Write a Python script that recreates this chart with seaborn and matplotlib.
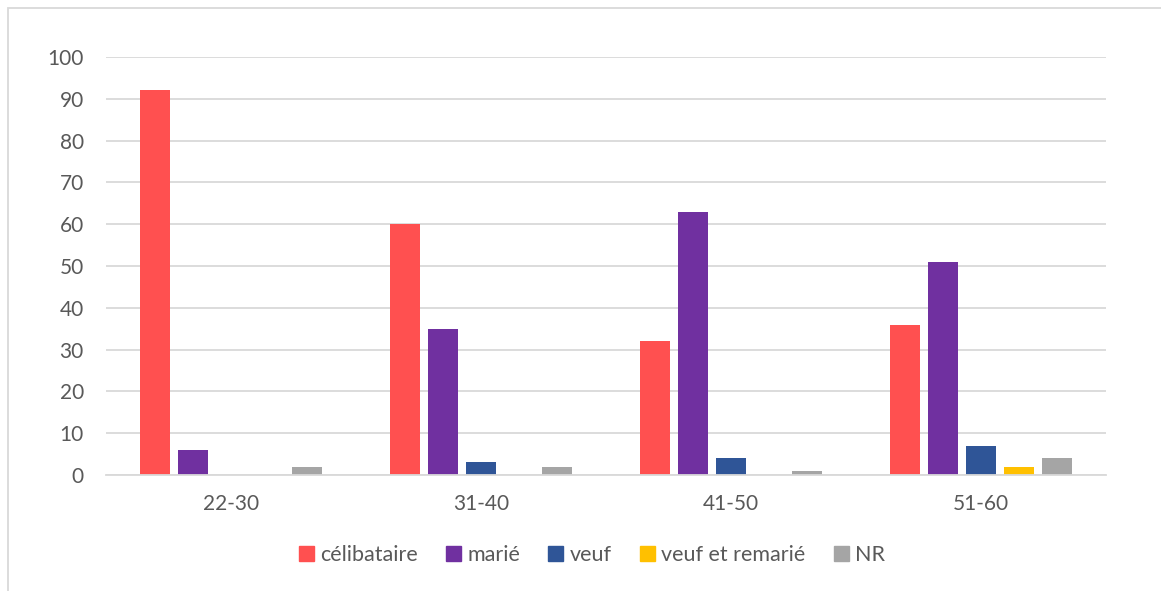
import pandas as pd
import matplotlib.pyplot as plt
import matplotlib.patches as mpatches
import seaborn as sns

age_groups = ["22-30", "31-40", "41-50", "51-60"]
statuses = ["célibataire", "marié", "veuf", "veuf et remarié", "NR"]
celibataire = [92, 60, 32, 36]
marie = [6, 35, 63, 51]
veuf = [0, 3, 4, 7]
veuf_remarie = [0, 0, 0, 2]
nr = [2, 2, 1, 4]
colors = ["#FF5050", "#7030A0", "#2F5597", "#FFC000", "#A5A5A5"]

series = [celibataire, marie, veuf, veuf_remarie, nr]
rows = []
for status, vals in zip(statuses, series):
    for grp, v in zip(age_groups, vals):
        rows.append({"age": grp, "statut": status, "n": v})
df = pd.DataFrame(rows)

sns.set_theme(style="white")
plt.rcParams["font.family"] = ["Lato", "DejaVu Sans"]

fig = plt.figure(figsize=(11.61, 5.91), dpi=100)
ax = fig.add_axes([106 / 1161, 1 - 475 / 591, 1000 / 1161, (475 - 57) / 591])

sns.barplot(data=df, x="age", y="n", hue="statut", order=age_groups,
            hue_order=statuses, palette=colors, saturation=1, width=0.76, gap=0.2,
            linewidth=0, ax=ax)

ax.set_xlim(-0.5, 3.5)
ax.set_ylim(0, 100)
ax.set_yticks(range(0, 101, 10))
ax.yaxis.grid(True, color="#D9D9D9", linewidth=1.3)
ax.set_axisbelow(True)
for s in ["top", "right", "left"]:
    ax.spines[s].set_visible(False)
ax.spines["bottom"].set_color("#D9D9D9")
ax.spines["bottom"].set_linewidth(1.3)
ax.tick_params(axis="both", length=0, labelsize=15, colors="#595959")
ax.tick_params(axis="y", pad=16)
ax.tick_params(axis="x", pad=14)
ax.set_xlabel("")
ax.set_ylabel("")

handles = [mpatches.Patch(color=c, label=s) for c, s in zip(colors, statuses)]
ax.get_legend().remove()
leg = fig.legend(handles=handles, loc="center", bbox_to_anchor=(592 / 1161, 1 - 555 / 591),
                 ncol=5, frameon=False, fontsize=15.5, handlelength=0.7, handleheight=0.7,
                 handletextpad=0.3, columnspacing=1.3)
for t in leg.get_texts():
    t.set_color("#595959")

# chart frame
fig.patches.append(mpatches.Rectangle((8 / 1161, -0.1), 1.2, 1.1 - 8 / 591, transform=fig.transFigure,
                                      fill=False, edgecolor="#D9D9D9", linewidth=1.3))

fig.savefig("out.png", dpi=100)
